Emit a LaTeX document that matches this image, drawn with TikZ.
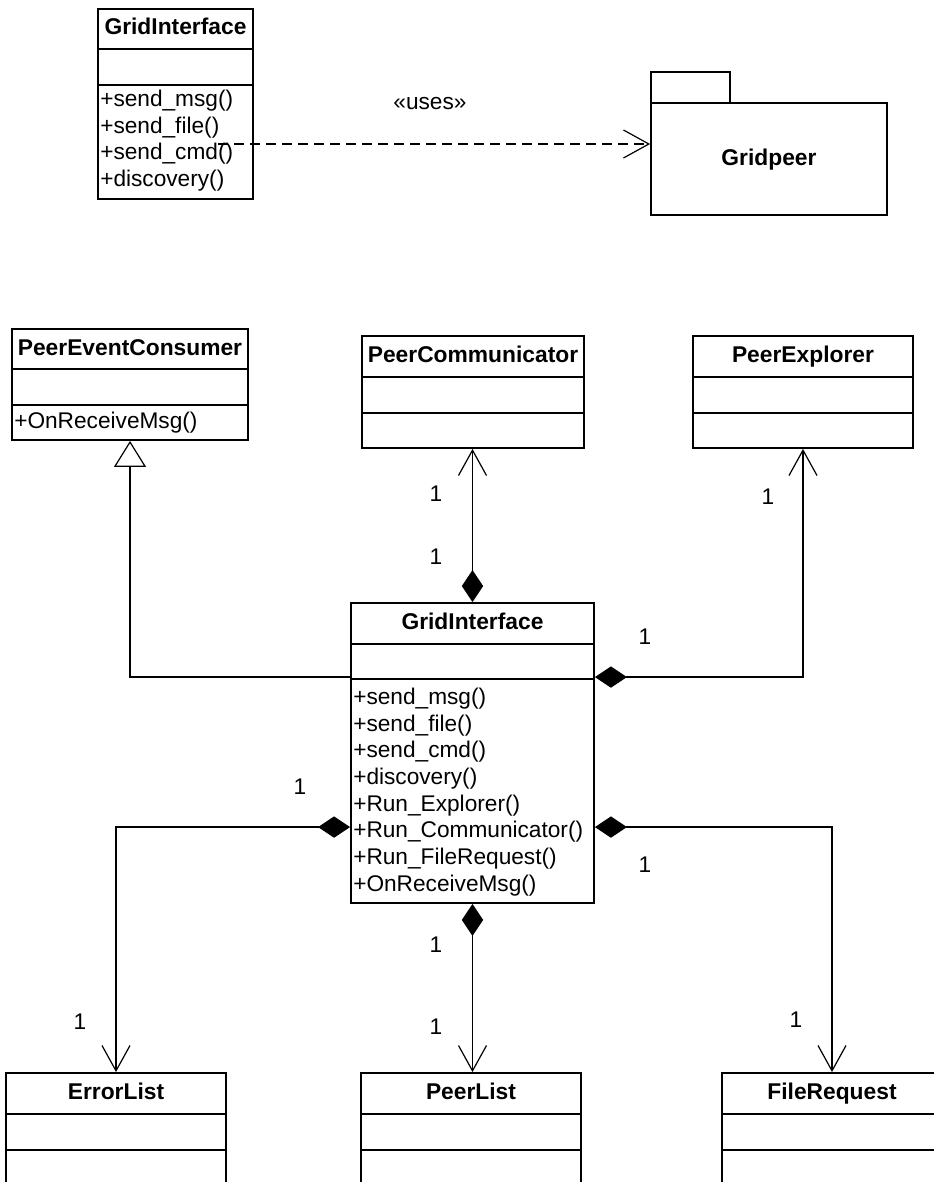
\documentclass[tikz,border=0pt]{standalone}
\usepackage{fontspec}
\setmainfont{Liberation Sans}
\usetikzlibrary{arrows.meta, calc, fit}

\begin{document}
\begin{tikzpicture}[x=0.75pt, y=-0.75pt, font=\fontsize{17}{20}\selectfont,
  classbox/.style={draw, line width=1.4pt, inner sep=0pt},
  divider/.style={line width=1.4pt},
  classname/.style={font=\fontsize{17.1}{20}\selectfont\bfseries, anchor=base, inner sep=0pt},
  ops/.style={anchor=north west, align=left, inner sep=0pt},
  mult/.style={inner sep=0pt},
  link/.style={line width=0.9pt},
  comp/.style={link, {Diamond[length=24pt, width=16pt]}-{Straight Barb[length=19pt, width=21pt]}},
  gen/.style={link, -{Triangle[open, fill=white, length=19.5pt, width=24pt]}},
  dep/.style={link, dash pattern=on 7.5pt off 4.5pt, -{Straight Barb[length=19pt, width=21pt]}}]
  \useasboundingbox (0,0) rectangle (934,1182);
  \clip (0,0) rectangle (934,1182);

  % Interface and the package it uses
  \node[classbox, fit={(98,9) (253,199)}] (gi0) {};
  \node[classname] (gi0name) at ($(gi0.north)+(0,26)$) {GridInterface};
  \draw[divider] (98,49) -- (253,49);
  \draw[divider] (98,85) -- (253,85);
  \node[ops] (gi0ops) at (100,89.7) {+send\_msg()\\+send\_file()\\+send\_cmd()\\+discovery()};

  \draw[divider] (651,103) rectangle (730,72);
  \node[classbox, fit={(651,103) (887,215)}] (gp) {};
  \node[classname] (gpname) at (769,165) {Gridpeer};

  \coordinate (usesstart) at (218,144);
  \draw[dep] (usesstart) -- (usesstart -| gp.west);
  \node (uses) at (430,104) {«uses»};

  % Classes around the main interface
  \node[classbox, fit={(12,329) (248,440)}] (pec) {};
  \node[classname] (pecname) at ($(pec.north)+(0,27)$) {PeerEventConsumer};
  \draw[divider] (12,369) -- (248,369);
  \draw[divider] (12,405) -- (248,405);
  \node[ops, anchor=base west] (pecops) at (14,428) {+OnReceiveMsg()};

  \node[classbox, fit={(362,336) (584,448)}] (pcom) {};
  \node[classname] (pcomname) at ($(pcom.north)+(0,27)$) {PeerCommunicator};
  \draw[divider] (362,377) -- (584,377);
  \draw[divider] (362,413) -- (584,413);

  \node[classbox, fit={(693,336) (913,448)}] (pexp) {};
  \node[classname] (pexpname) at ($(pexp.north)+(0,27)$) {PeerExplorer};
  \draw[divider] (693,377) -- (913,377);
  \draw[divider] (693,413) -- (913,413);

  % Main interface
  \node[classbox, fit={(351,603) (594,903)}] (gi) {};
  \node[classname] (giname) at ($(gi.north)+(0,27)$) {GridInterface};
  \draw[divider] (351,644) -- (594,644);
  \draw[divider] (351,679) -- (594,679);
  \node[ops] (giops) at (353,687.7) {+send\_msg()\\+send\_file()\\+send\_cmd()\\+discovery()\\
    +Run\_Explorer()\\+Run\_Communicator()\\+Run\_FileRequest()\\+OnReceiveMsg()};

  % Lists at the bottom
  \node[classbox, fit={(6,1073) (226,1200)}] (errl) {};
  \node[classname] (errlname) at ($(errl.north)+(0,27)$) {ErrorList};
  \draw[divider] (6,1114) -- (226,1114);
  \draw[divider] (6,1150) -- (226,1150);

  \node[classbox, fit={(361,1073) (581,1200)}] (plist) {};
  \node[classname] (plistname) at ($(plist.north)+(0,27)$) {PeerList};
  \draw[divider] (361,1114) -- (581,1114);
  \draw[divider] (361,1150) -- (581,1150);

  \node[classbox, fit={(722,1073) (942,1200)}] (freq) {};
  \node[classname] (freqname) at ($(freq.north)+(0,27)$) {FileRequest};
  \draw[divider] (722,1114) -- (942,1114);
  \draw[divider] (722,1150) -- (942,1150);

  % Associations
  \draw[gen] ($(gi.north west)+(0,75)$) -| (pec.south);
  \draw[comp] (gi.north) -- (gi.north |- pcom.south);
  \draw[comp] ($(gi.north east)+(0,75)$) -| (pexp.south);
  \draw[comp] ($(gi.north west)+(0,225)$) -| (errl.north);
  \draw[comp] ($(gi.north east)+(0,225)$) -| (freq.north);
  \draw[comp] (gi.south) -- (gi.south |- plist.north);

  % Multiplicities
  \node[mult] (m1) at (436,494) {1};
  \node[mult] (m2) at (436,557) {1};
  \node[mult] (m3) at (768,497) {1};
  \node[mult] (m4) at (645,637) {1};
  \node[mult] (m5) at (300,787) {1};
  \node[mult] (m6) at (80,1022) {1};
  \node[mult] (m7) at (645,865) {1};
  \node[mult] (m8) at (796,1020) {1};
  \node[mult] (m9) at (436,945) {1};
  \node[mult] (m10) at (436,1027) {1};
\end{tikzpicture}
\end{document}
